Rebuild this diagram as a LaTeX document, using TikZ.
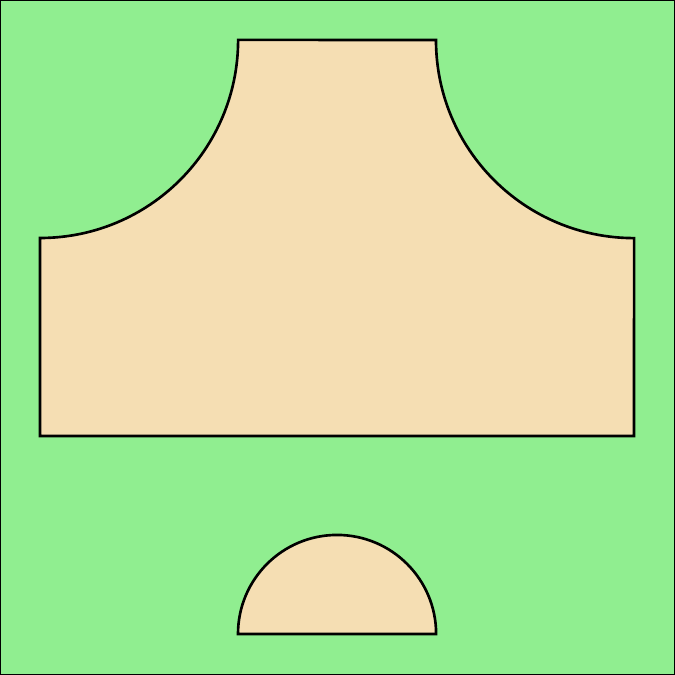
\documentclass[tikz,border=0pt]{standalone}
\definecolor{fieldgreen}{RGB}{144, 238, 144}
\definecolor{platewheat}{RGB}{245, 222, 179}
\usepackage{tikz}
\usepackage{xcolor}

\begin{document}
\begin{tikzpicture}[
        x=0.01cm, y=0.01cm,
        field/.style={fill=fieldgreen, draw=black, line width=0.4pt},
        plate/.style={fill=platewheat, draw=black, line width=0.75pt, line join=miter}
    ]
        \useasboundingbox (0,0) rectangle (675,675);
        % Background
        \draw[field] (0,0) rectangle (675,675);
        % Upper plate with two concave corners
        \draw[plate] (40,239) -- (40,437)
            arc[start angle=-90, end angle=0, radius=1.98cm] -- (436,635)
            arc[start angle=180, end angle=270, radius=1.98cm] -- (634,239) -- cycle;
        % Half disc
        \draw[plate] (238,41) arc[start angle=180, end angle=0, radius=0.99cm] -- cycle;
    \end{tikzpicture}
\end{document}
